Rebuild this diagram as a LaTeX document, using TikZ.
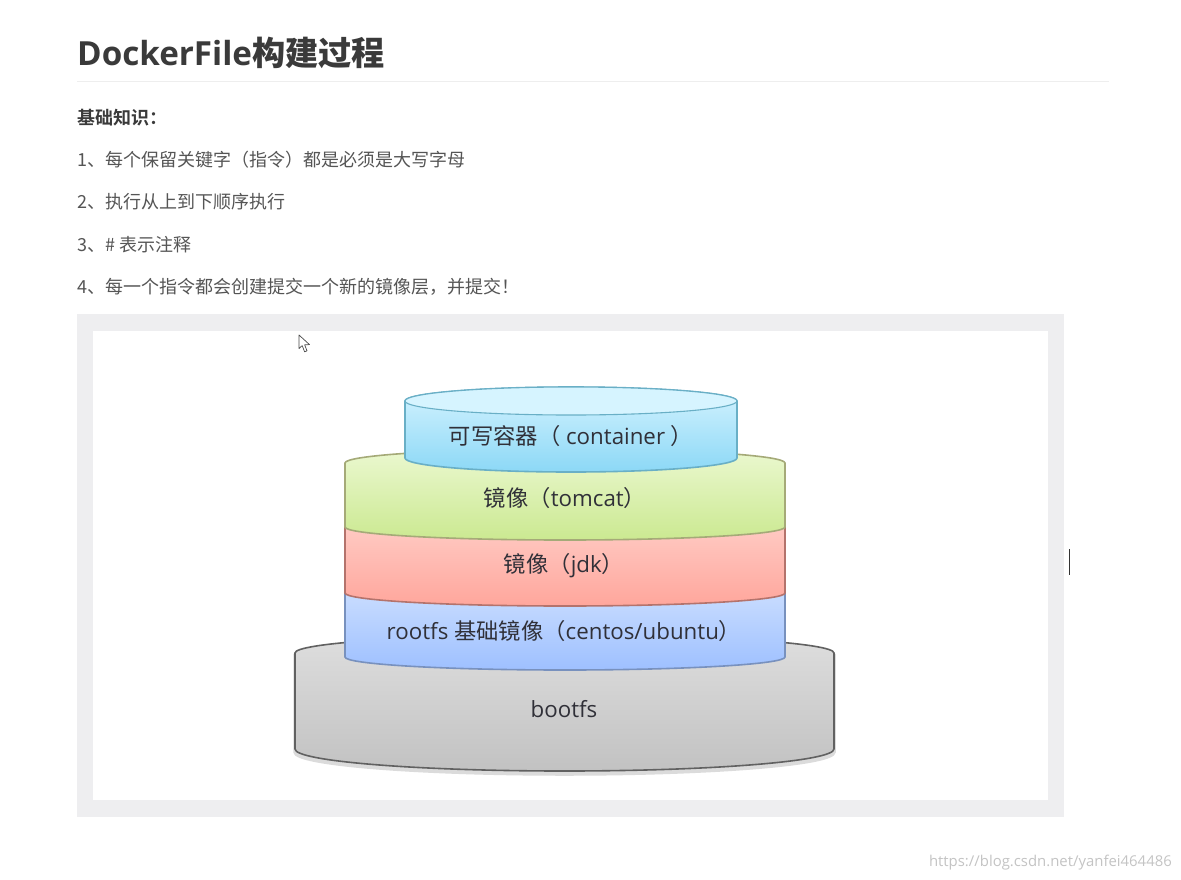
\documentclass[tikz,border=0pt]{standalone}
\usepackage{fontspec}
\setmainfont{Open Sans}
\newfontfamily\cjk{Noto Sans CJK SC}
\newfontfamily\cjkb{Noto Sans CJK SC Bold}
\definecolor{ink}{HTML}{3A3A3A}
\definecolor{bodyink}{HTML}{555555}
\definecolor{frame}{HTML}{EEEEF0}
\definecolor{rulec}{HTML}{EEEEEE}
\definecolor{mark}{HTML}{C4C4C4}
\definecolor{labelink}{HTML}{303038}
\newcommand{\cylbody}[7]{% x1,x2,ytop,ybot,ryTop,ryBot,style
  \pgfmathsetmacro{\cx}{(#1+#2)/2}
  \pgfmathsetmacro{\rx}{(#2-#1)/2}
  \pgfmathsetmacro{\ka}{0.5523*\rx}
  \pgfmathsetmacro{\kt}{0.5523*#5}
  \pgfmathsetmacro{\kb}{0.5523*#6}
  \path[#7] (#1,#3)
    .. controls (#1,#3-\kt) and (\cx-\ka,#3-#5) .. (\cx,#3-#5)
    .. controls (\cx+\ka,#3-#5) and (#2,#3-\kt) .. (#2,#3)
    -- (#2,#4)
    .. controls (#2,#4+\kb) and (\cx+\ka,#4+#6) .. (\cx,#4+#6)
    .. controls (\cx-\ka,#4+#6) and (#1,#4+\kb) .. (#1,#4)
    -- cycle;
}
\tikzset{
  x=1pt,y=-1pt,
  textline/.style={anchor=base west,inner sep=0pt,text=bodyink,font=\cjk\fontsize{18}{20}\selectfont},
  headline/.style={anchor=base west,inner sep=0pt,text=ink,font=\cjkb\fontsize{18}{20}\selectfont},
  layerlabel/.style={anchor=center,inner sep=0pt,text=labelink,font=\fontsize{22.3}{26}\selectfont},
  softshadow/.style={draw=black!14,line width=3.5pt,fill=black!14},
  bootcyl/.style={draw=black!62,line width=1.6pt,top color=white!87!black,bottom color=white!76!black},
  rootcyl/.style={draw={rgb,255:red,120;green,145;blue,190},line width=1.6pt,top color={rgb,255:red,212;green,228;blue,255},bottom color={rgb,255:red,158;green,192;blue,255}},
  jdkcyl/.style={draw={rgb,255:red,180;green,115;blue,108},line width=1.6pt,top color={rgb,255:red,255;green,212;blue,206},bottom color={rgb,255:red,255;green,166;blue,156}},
  tomcyl/.style={draw={rgb,255:red,165;green,170;blue,120},line width=1.6pt,top color={rgb,255:red,235;green,248;blue,208},bottom color={rgb,255:red,203;green,233;blue,145}},
  contcyl/.style={draw={rgb,255:red,105;green,175;blue,198},line width=1.6pt,top color={rgb,255:red,212;green,243;blue,255},bottom color={rgb,255:red,140;green,216;blue,246}},
  contcap/.style={draw={rgb,255:red,105;green,175;blue,198},line width=1.1pt,fill={rgb,255:red,214;green,244;blue,255}},
}
\begin{document}
\begin{tikzpicture}
\useasboundingbox (0,0) rectangle (1181,879);
\fill[white] (0,0) rectangle (1181,879);

% heading
\node[anchor=base west,inner sep=0pt,text=ink] (title) at (77,65)
  {\fontsize{33.2}{36}\selectfont\bfseries DockerFile{\cjkb 构建过程}};
\draw[rulec,line width=1pt] (77,81) -- (1109,81);

% list
\node[headline] (basics) at (77,124) {基础知识：};
\node[textline] (item1) at (77,166) {1、每个保留关键字（指令）都是必须是大写字母};
\node[textline] (item2) at (77,208) {2、执行从上到下顺序执行};
\node[textline] (item3) at (77,251) {3、\# 表示注释};
\node[textline] (item4) at (77,293) {4、每一个指令都会创建提交一个新的镜像层，并提交！};

% image frame
\fill[frame] (77,314) rectangle (1064,817);
\fill[white] (93,331) rectangle (1048,800);

% cursor
\draw[black!70,fill=white,line width=.7pt,line join=round]
  (299,335) -- (299,348.5) -- (302.2,345.6) -- (304.6,351.8) -- (307,350.8) -- (304.6,344.8) -- (309.5,344.6) -- cycle;

% caret
\draw[black!80,line width=1pt] (1069,549) -- (1069,575);

% layers, bottom to top
\cylbody{295}{834}{655}{752}{18}{22}{softshadow}
\cylbody{295}{834}{653}{749}{18}{22}{bootcyl}
\cylbody{345}{785}{585}{657}{14}{13}{rootcyl}
\cylbody{345}{785}{518}{593}{14}{13}{jdkcyl}
\cylbody{345}{785}{463}{527}{14}{13}{tomcyl}
\cylbody{405}{737}{401}{458}{14}{14}{contcyl}
\cylbody{405}{737}{401}{401}{14}{14}{contcap}

% labels
\node[layerlabel] (lcontainer) at (571,436) {{\cjk 可写容器（} container {\cjk ）}};
\node[layerlabel] (ltomcat) at (565,498) {{\cjk 镜像（}tomcat{\cjk ）}};
\node[layerlabel] (ljdk) at (564,566) {{\cjk 镜像（}jdk{\cjk ）}};
\node[layerlabel] (lrootfs) at (564,631) {rootfs {\cjk 基础镜像（}centos/ubuntu{\cjk ）}};
\node[layerlabel] (lbootfs) at (564,709) {bootfs};

% watermark
\node[anchor=base east,inner sep=0pt,text=mark,font=\fontsize{14.9}{17}\selectfont] (wm) at (1172,866) {https://blog.csdn.net/yanfei464486};
\end{tikzpicture}
\end{document}
